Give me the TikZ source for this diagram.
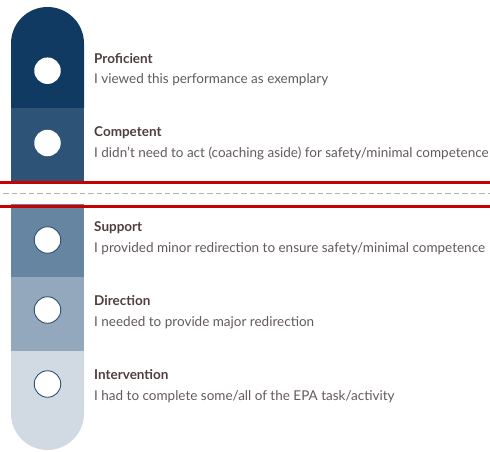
\documentclass[tikz,border=0pt]{standalone}
\usepackage{fontspec}
\setmainfont{Lato}
\usepackage{tikz}
\usetikzlibrary{shapes}

\begin{document}
\begin{tikzpicture}[x=1pt,y=1pt,yscale=-1,xscale=1,
  lvltitle/.style={anchor=base west,inner sep=0pt,font=\fontsize{13.5}{15}\selectfont\bfseries,text={rgb,255:red,80;green,62;blue,62}},
  lvltext/.style={anchor=base west,inner sep=0pt,font=\fontsize{13.5}{15}\selectfont,text={rgb,255:red,98;green,90;blue,90}},
  lvldot/.style={circle,inner sep=0pt,minimum size=26.5pt,fill=white},
  lvlring/.style={lvldot,draw={rgb,255:red,46;green,79;blue,112},line width=0.9pt}]
%set diagram left start at 0, and has width of 490 and height of 452
\useasboundingbox (0,0) rectangle (490,452);

%Shape: Bar top [id:proficient]
\fill [fill={rgb, 255:red, 16; green, 58; blue, 98 }] (11,108) -- (11,43.5) arc (180:360:36.5) -- (84,108) -- cycle ;
%Shape: Rectangle [id:competent]
\fill [fill={rgb, 255:red, 45; green, 84; blue, 119 }] (11,108) rectangle (84,181) ;
%Shape: Rectangle [id:support]
\fill [fill={rgb, 255:red, 101; green, 133; blue, 160 }] (11,203.5) rectangle (84,277) ;
%Shape: Rectangle [id:direction]
\fill [fill={rgb, 255:red, 147; green, 168; blue, 188 }] (11,277) rectangle (84,351) ;
%Shape: Bar bottom [id:intervention]
\fill [fill={rgb, 255:red, 209; green, 218; blue, 227 }] (11,351) -- (11,413.5) arc (180:0:36.5) -- (84,351) -- cycle ;

%Straight Lines [id:redtop]
\coordinate (cuttopl) at (0,182.5);
\coordinate (cuttopr) at (490,182.5);
\draw [color={rgb, 255:red, 200; green, 0; blue, 0 }, line width=3.5]  (cuttopl) -- (cuttopr) ;
%Straight Lines [id:dashmid]
\coordinate (cutmidl) at (3,193.5);
\coordinate (cutmidr) at (490,193.5);
\draw [color={rgb, 255:red, 178; green, 178; blue, 178 }, line width=1.5, dash pattern={on 5.5pt off 3pt}]  (cutmidl) -- (cutmidr) ;
%Straight Lines [id:redbot]
\coordinate (cutbotl) at (0,206.5);
\coordinate (cutbotr) at (490,206.5);
\draw [color={rgb, 255:red, 200; green, 0; blue, 0 }, line width=3.5]  (cutbotl) -- (cutbotr) ;

%Shape: Circles
\node (profdot) [lvldot] at (47.5,70.7) {};
\node (compdot) [lvldot] at (47.5,143) {};
\node (suppdot) [lvlring] at (47.5,240) {};
\node (dirdot) [lvlring] at (47.5,310) {};
\node (intdot) [lvlring] at (47.5,384) {};

% Text Node
\draw (94,63.5) node (proftitle) [lvltitle] {Proficient};
% Text Node
\draw (94,83.5) node (proftext) [lvltext] {I viewed this performance as exemplary};
% Text Node
\draw (94,136.5) node (comptitle) [lvltitle] {Competent};
% Text Node
\draw (94,157) node (comptext) [lvltext] {I didn't need to act (coaching aside) for safety/minimal competence};
% Text Node
\draw (94,231.5) node (supptitle) [lvltitle] {Support};
% Text Node
\draw (94,252) node (supptext) [lvltext] {I provided minor redirection to ensure safety/minimal competence};
% Text Node
\draw (94,305.5) node (dirtitle) [lvltitle] {Direction};
% Text Node
\draw (94,326) node (dirtext) [lvltext] {I needed to provide major redirection};
% Text Node
\draw (94,379.5) node (inttitle) [lvltitle] {Intervention};
% Text Node
\draw (94,400) node (inttext) [lvltext] {I had to complete some/all of the EPA task/activity};

\end{tikzpicture}
\end{document}
